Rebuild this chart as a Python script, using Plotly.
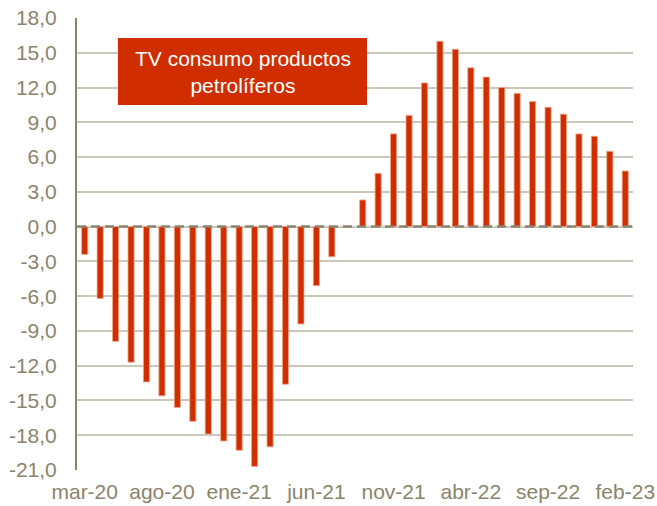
import plotly.graph_objects as go

months = ["mar-20","abr-20","may-20","jun-20","jul-20","ago-20","sep-20","oct-20","nov-20","dic-20",
          "ene-21","feb-21","mar-21","abr-21","may-21","jun-21","jul-21","ago-21","sep-21","oct-21",
          "nov-21","dic-21","ene-22","feb-22","mar-22","abr-22","may-22","jun-22","jul-22","ago-22",
          "sep-22","oct-22","nov-22","dic-22","ene-23","feb-23"]
values = [-2.4, -6.2, -9.9, -11.7, -13.4, -14.6, -15.6, -16.8, -17.9, -18.5,
          -19.3, -20.7, -19.0, -13.6, -8.4, -5.1, -2.6, 0.0, 2.3, 4.6,
          8.0, 9.6, 12.4, 16.0, 15.3, 13.7, 12.9, 12.0, 11.5, 10.8,
          10.3, 9.7, 8.0, 7.8, 6.5, 4.8]
x_tick_labels = ["mar-20","ago-20","ene-21","jun-21","nov-21","abr-22","sep-22","feb-23"]
y_tick_values = [-21, -18, -15, -12, -9, -6, -3, 0, 3, 6, 9, 12, 15, 18]
y_tick_labels = [f"{v:.1f}".replace(".", ",") for v in y_tick_values]
title_lines = ["TV consumo productos", "petrolíferos"]

RED = "#d02e00"
OLIVE = "#8a846e"
GRID = "#cbc7bb"
FONT = "Liberation Sans, Arial, sans-serif"

fig = go.Figure()
fig.add_trace(go.Bar(
    x=months, y=values,
    marker=dict(color=RED, line=dict(color="#f0a88e", width=0.8)),
    hoverinfo="x+y",
))

fig.update_layout(
    width=657, height=506,
    margin=dict(l=77, r=24, t=18, b=36, autoexpand=False),
    paper_bgcolor="white", plot_bgcolor="white",
    bargap=0.6,
    showlegend=False,
    font=dict(family=FONT, size=21, color=OLIVE),
)
fig.update_xaxes(
    type="category", automargin=False,
    categoryorder="array", categoryarray=months,
    tickmode="array", tickvals=x_tick_labels, ticktext=x_tick_labels,
    showgrid=False, showline=False, zeroline=False, ticks="",
    ticklabelstandoff=7,
    tickfont=dict(family=FONT, size=21, color=OLIVE),
    range=[-0.5, len(months) - 0.5],
)
fig.update_yaxes(
    range=[-21, 18], automargin=False,
    tickmode="array", tickvals=y_tick_values, ticktext=y_tick_labels,
    showgrid=True, gridcolor=GRID, gridwidth=2,
    zeroline=False,
    showline=True, linecolor=OLIVE, linewidth=2,
    ticks="", ticklabelstandoff=14,
    tickfont=dict(family=FONT, size=21, color=OLIVE),
)

# dashed zero line above bars
fig.add_shape(type="line", xref="paper", yref="y", x0=0, x1=1, y0=0, y1=0,
              line=dict(color=OLIVE, width=2.5, dash="9px,5px"), layer="above")

# title box
fig.add_shape(type="rect", xref="paper", yref="paper",
              x0=0.0737, x1=0.5216, y0=0.8075, y1=0.9558,
              fillcolor=RED, line=dict(width=0), layer="above")
fig.add_annotation(xref="paper", yref="paper", x=0.2977, y=0.8816,
                   text="<br>".join(title_lines), showarrow=False,
                   font=dict(family=FONT, size=21, color="white"),
                   align="center", xanchor="center", yanchor="middle")

fig.write_html(
    "out.html",
    config={"displayModeBar": False},
    post_script="document.body.style.margin='0';document.body.style.overflow='hidden';",
)
